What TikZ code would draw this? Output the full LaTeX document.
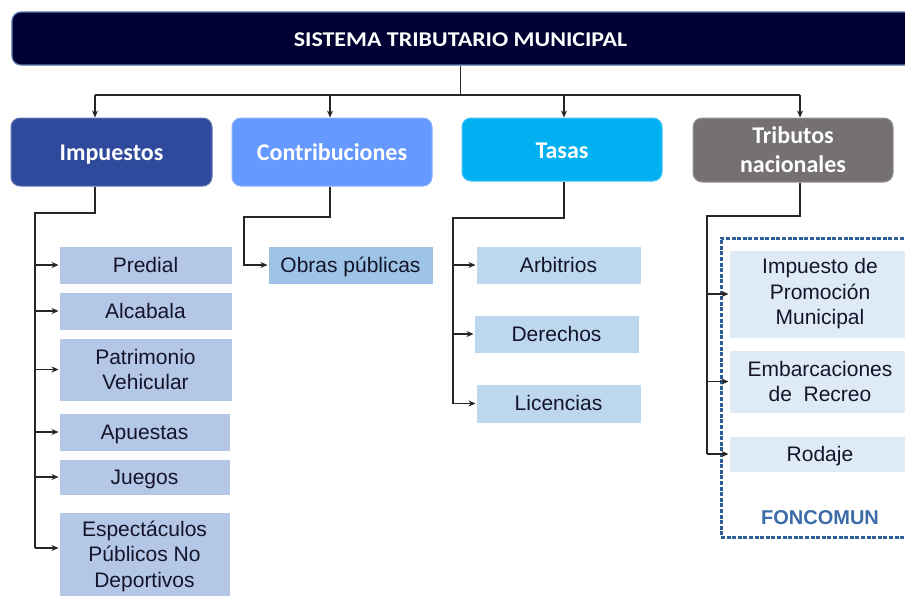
\documentclass[tikz,border=0pt]{standalone}
\usepackage{fontspec}
\setmainfont{Liberation Sans}
\newfontfamily\calfont{Carlito}
\usetikzlibrary{arrows.meta,calc}
\definecolor{titlefill}{HTML}{000033}
\definecolor{titleedge}{HTML}{5B7BAF}
\definecolor{impfill}{HTML}{2F4A9C}
\definecolor{confill}{HTML}{6699FF}
\definecolor{tasfill}{HTML}{00B0F0}
\definecolor{trifill}{HTML}{757171}
\definecolor{impsub}{HTML}{B4C7E7}
\definecolor{consub}{HTML}{9DC3E6}
\definecolor{tassub}{HTML}{BDD7EE}
\definecolor{trisub}{HTML}{DEEBF7}
\definecolor{dashc}{HTML}{2E5E96}
\definecolor{foncol}{HTML}{3B6BA8}
\definecolor{subtext}{HTML}{14142A}
\tikzset{
  titlebox/.style={rounded corners=9pt, fill=titlefill, draw=titleedge, line width=1.2pt,
    text=white, font=\calfont\bfseries\fontsize{21}{26}\selectfont, inner sep=0pt},
  catbox/.style={rounded corners=9pt, fill=#1, draw=#1!75!white, line width=1pt,
    text=white, font=\calfont\bfseries\fontsize{24}{29}\selectfont, align=center, inner sep=0pt},
  oneline/.style={text height=19pt, text depth=1.6pt},
  subbox/.style={fill=#1, draw=white, line width=1pt, text=subtext,
    font=\fontsize{21}{25.5}\selectfont, align=center, inner sep=0pt},
  subone/.style={text height=15.6pt, text depth=1pt},
  ln/.style={line width=1.6pt, draw=black!85},
  arr/.style={ln, -{Stealth[length=7pt,width=6pt]}},
  dashframe/.style={draw=dashc, line width=3pt, dash pattern=on 4pt off 1.6pt, inner sep=0pt}
}
\begin{document}
\begin{tikzpicture}[x=1pt,y=-1pt]
\useasboundingbox (0,0) rectangle (905,595);
\clip (0,0) rectangle (905,595);
\fill[white] (0,0) rectangle (905,595);

% title (runs past the right edge)
\node[titlebox, minimum width=910pt, minimum height=53pt, text height=14pt, text depth=0pt] (title) at (467,38.5) {};
\node[text=white, font=\calfont\bfseries\fontsize{21}{26}\selectfont] (titletxt) at (460.5,40) {\scalebox{1.14}[1]{SISTEMA TRIBUTARIO MUNICIPAL}};

% categories
\node[catbox=impfill, oneline, minimum width=201pt, minimum height=68pt] (imp) at (111.5,152) {Impuestos};
\node[catbox=confill, oneline, minimum width=200pt, minimum height=68pt] (con) at (332,152) {Contribuciones};
\node[catbox=tasfill, oneline, minimum width=200pt, minimum height=63pt] (tas) at (562,149.5) {Tasas};
\node[catbox=trifill, minimum width=200pt, minimum height=64pt] (tri) at (793,150) {Tributos\\nacionales};

% impuestos children
\node[subbox=impsub, subone, minimum width=173pt, minimum height=38pt] (pred) at (145.5,265) {Predial};
\node[subbox=impsub, subone, minimum width=173pt, minimum height=38pt] (alc) at (145.5,311) {Alcabala};
\node[subbox=impsub, minimum width=173pt, minimum height=63pt] (pat) at (145.5,369.5) {Patrimonio\\Vehicular};
\node[subbox=impsub, subone, minimum width=171pt, minimum height=38pt] (apu) at (144.5,432) {Apuestas};
\node[subbox=impsub, subone, minimum width=171pt, minimum height=36pt] (jue) at (144.5,477) {Juegos};
\node[subbox=impsub, minimum width=171pt, minimum height=88pt] (esp) at (144.5,556) {Espectáculos\\Públicos No\\Deportivos};

% contribuciones child
\node[subbox=consub, subone, minimum width=165pt, minimum height=38pt] (obr) at (350.5,265) {Obras públicas};

% tasas children
\node[subbox=tassub, subone, minimum width=165pt, minimum height=38pt] (arb) at (558.5,265) {Arbitrios};
\node[subbox=tassub, subone, minimum width=165pt, minimum height=38pt] (der) at (556.5,334) {Derechos};
\node[subbox=tassub, subone, minimum width=165pt, minimum height=39pt] (lic) at (558.5,403.5) {Licencias};

% tributos nacionales frame and children (run past the right edge)
\node[dashframe, minimum width=205pt, minimum height=299pt] (fon) at (823.5,387.5) {};
\node[subbox=trisub, minimum width=182pt, minimum height=88pt] (ipm) at (820,294) {Impuesto de\\Promoción\\Municipal};
\node[subbox=trisub, minimum width=182pt, minimum height=63pt] (emb) at (820,381.5) {Embarcaciones\\de~ Recreo};
\node[subbox=trisub, subone, minimum width=182pt, minimum height=36pt] (rod) at (820,454) {Rodaje};
\node[text=foncol, font=\bfseries\fontsize{20}{24}\selectfont] (fonlbl) at (820,518) {FONCOMUN};

% top connectors
\coordinate (ai) at (95,95);
\coordinate (ac) at (330,95);
\coordinate (at) at (564,95);
\coordinate (an) at (800,95);
\draw[ln] (titletxt |- title.south) -- (titletxt |- ai);
\draw[ln] (ai) -- (an);
\draw[arr] (ai) -- (ai |- imp.north);
\draw[arr] (ac) -- (ac |- con.north);
\draw[arr] (at) -- (at |- tas.north);
\draw[arr] (an) -- (an |- tri.north);

% impuestos branch
\coordinate (vi) at (35,213);
\coordinate (ea) at ([yshift=8pt]esp.west);
\draw[ln] (ai |- imp.south) -- (ai |- vi) -- (vi) -- (vi |- ea);
\foreach \n in {pred,alc,pat,apu,jue}
  \draw[arr] (vi |- \n.west) -- (\n.west);
\draw[arr] (vi |- ea) -- (ea);

% contribuciones branch
\coordinate (vc) at (244,217);
\draw[arr] (ac |- con.south) -- (ac |- vc) -- (vc) |- (obr.west);

% tasas branch
\coordinate (vt) at (453,218);
\draw[ln] (at |- tas.south) -- (at |- vt) -- (vt) -- (vt |- lic.west);
\foreach \n in {arb,der,lic}
  \draw[arr] (vt |- \n.west) -- (\n.west);

% tributos branch
\coordinate (vn) at (707,216);
\draw[ln] (an |- tri.south) -- (an |- vn) -- (vn) -- (vn |- rod.west);
\foreach \n in {ipm,emb,rod}
  \draw[arr] (vn |- \n.west) -- (\n.west);
\end{tikzpicture}
\end{document}
